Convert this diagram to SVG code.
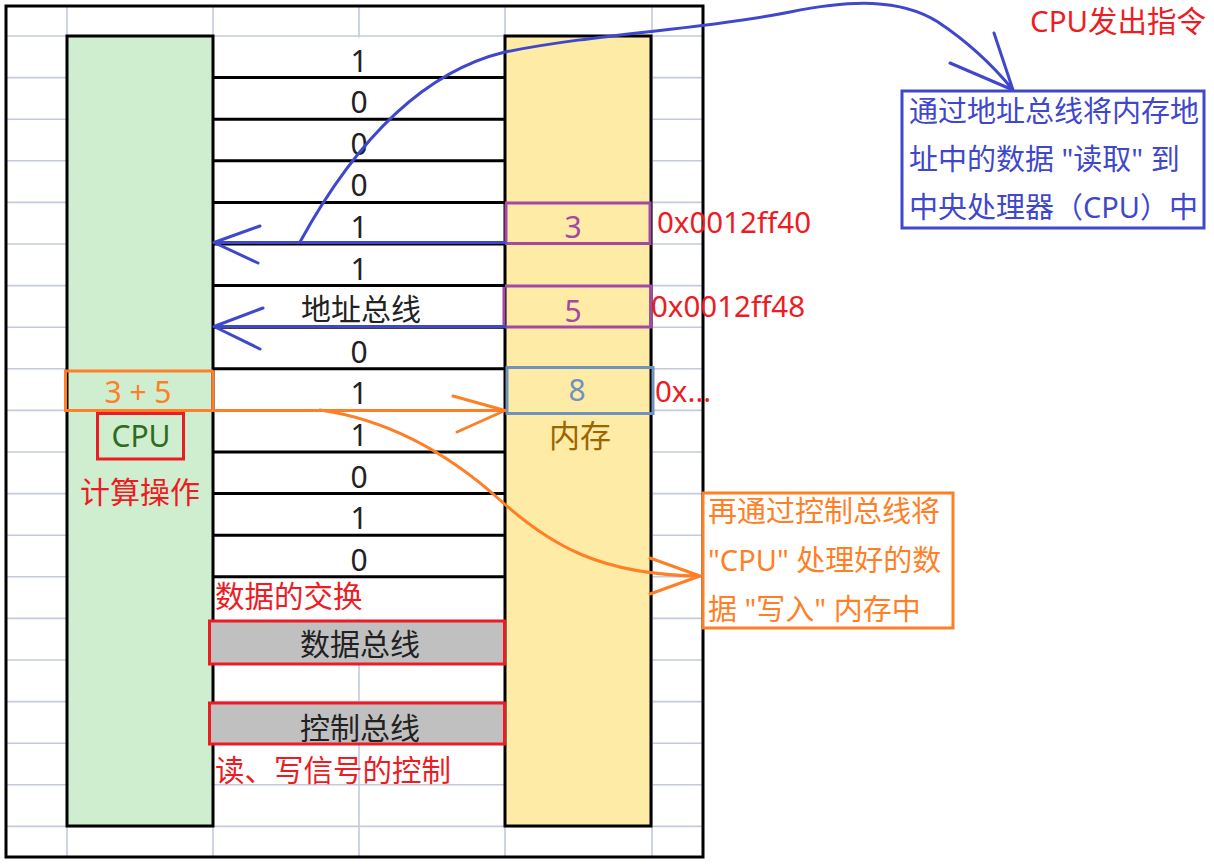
<svg xmlns="http://www.w3.org/2000/svg" width="1214" height="864" viewBox="0 0 1214 864">
<style>
text{font-family:"Noto Sans","Noto Sans CJK SC",sans-serif;}
.grid{stroke:#c3cadc;stroke-width:1.6;fill:none}
.bus{stroke:#000;stroke-width:3;fill:none}
.cell{font-size:30px;fill:#222;text-anchor:middle}
.red{fill:#ed1c24}
.blue{stroke:#3f48cc;stroke-width:3;fill:none;stroke-linecap:round}
.orange{stroke:#ff7f27;stroke-width:3;fill:none;stroke-linecap:round}
.ann{font-size:29.5px}
</style>
<rect width="1214" height="864" fill="#fff"/>
<g id="grid">
<path class="grid" d="M67,5V858M213,5V858M359,5V858M505,5V858M652,5V858"/>
<path class="grid" d="M5,36H703M5,77.6H703M5,119.2H703M5,160.8H703M5,202.4H703M5,244H703M5,285.6H703M5,327.2H703M5,368.8H703M5,410.4H703M5,452H703M5,493.6H703M5,535.2H703M5,576.8H703M5,618.4H703M5,660H703M5,701.6H703M5,743.2H703M5,784.8H703M5,826.4H703"/>
<rect x="214" y="37.5" width="290" height="582" fill="#fff"/>
<rect x="6" y="6" width="697" height="851" fill="none" stroke="#000" stroke-width="3"/>
</g>
<g id="cpu">
<rect x="67" y="36" width="146" height="790" fill="#cfedcf" stroke="#000" stroke-width="3"/>
<rect x="65.5" y="371" width="147.5" height="39.5" fill="none" stroke="#ff7f27" stroke-width="3"/>
<text x="138" y="403" font-size="30" fill="#ff7f27" text-anchor="middle">3 + 5</text>
<rect x="97.5" y="413.5" width="86" height="45.5" fill="none" stroke="#ed1c24" stroke-width="3"/>
<text x="141" y="447" font-size="30" fill="#2f6a22" text-anchor="middle">CPU</text>
<text x="140" y="503" font-size="30" class="red" text-anchor="middle">计算操作</text>
</g>
<g id="memory">
<rect x="505" y="36" width="146" height="790" fill="#fdeba6" stroke="#000" stroke-width="3"/>
<rect x="506" y="203" width="144" height="40.5" fill="none" stroke="#a349a4" stroke-width="3"/>
<text x="573" y="238" font-size="30" fill="#a349a4" text-anchor="middle">3</text>
<rect x="504" y="286" width="147" height="41" fill="none" stroke="#a349a4" stroke-width="3"/>
<text x="573" y="322" font-size="30" fill="#a349a4" text-anchor="middle">5</text>
<rect x="507" y="367.5" width="146" height="46" fill="none" stroke="#7092be" stroke-width="3"/>
<text x="577" y="401" font-size="30" fill="#7092be" text-anchor="middle">8</text>
<text x="580" y="447" font-size="31" fill="#9c6500" text-anchor="middle">内存</text>
<text x="657" y="233" class="red ann">0x0012ff40</text>
<text x="651" y="317" class="red ann">0x0012ff48</text>
<text x="655" y="402" class="red ann">0x...</text>
</g>
<g id="address-bus">
<path class="bus" d="M213,77.6H505M213,119.2H505M213,160.8H505M213,202.4H505M213,244H505M213,285.6H505M213,327.2H505M213,368.8H505M213,410.4H505M213,452H505M213,493.6H505M213,535.2H505M213,576.8H505"/>
<text class="cell" x="359" y="71.5">1</text>
<text class="cell" x="359" y="113">0</text>
<text class="cell" x="359" y="154.5">0</text>
<text class="cell" x="359" y="196">0</text>
<text class="cell" x="359" y="238">1</text>
<text class="cell" x="359" y="279.5">1</text>
<text class="cell" x="361" y="320" font-size="32">地址总线</text>
<text class="cell" x="359" y="362.5">0</text>
<text class="cell" x="359" y="404">1</text>
<text class="cell" x="359" y="446">1</text>
<text class="cell" x="359" y="487.5">0</text>
<text class="cell" x="359" y="529">1</text>
<text class="cell" x="359" y="570.5">0</text>
</g>
<g id="data-bus">
<text x="215" y="607" class="red ann">数据的交换</text>
<rect x="209.5" y="621" width="295" height="43" fill="#c0c0c0" stroke="#ed1c24" stroke-width="3"/>
<text class="cell" x="360" y="655" font-size="32">数据总线</text>
</g>
<g id="control-bus">
<rect x="209.5" y="703" width="295" height="41" fill="#c0c0c0" stroke="#ed1c24" stroke-width="3"/>
<text class="cell" x="360" y="739" font-size="32">控制总线</text>
<text x="215" y="781" class="red ann">读、写信号的控制</text>
</g>
<g id="connectors">
<path class="blue" d="M505,242.5H214M214,242.5L260,226M214,242.5L258,263"/>
<path class="blue" d="M505,326.5H214M214,326.5L263,308M214,326.5L260,349"/>
<path class="blue" d="M300,242C345,160 410,75 505,52C600,33 700,30 790,12C850,0 900,-2 938,22C968,42 995,68 1013,90M1013,90L994,33M1013,90L950,63"/>
<path class="orange" d="M213,410.5H505M505,410.5L453,396M505,410.5L457,432"/>
<path class="orange" d="M320,410C390,420 450,455 500,500C550,545 600,575 700,576M700,576L650,558M700,576L650,594"/>
</g>
<g id="note-cpu">
<text x="1030" y="32" class="red ann">CPU发出指令</text>
</g>
<g id="note-read">
<rect x="902" y="91" width="302" height="137" fill="#fff" stroke="#3f48cc" stroke-width="3"/>
<g font-size="29" fill="#3f48cc">
<text x="909" y="122">通过地址总线将内存地</text>
<text x="909" y="170">址中的数据 "读取" 到</text>
<text x="909" y="218">中央处理器（CPU）中</text>
</g>
</g>
<g id="note-write">
<rect x="703" y="493" width="250" height="135" fill="#fff" stroke="#ff7f27" stroke-width="3"/>
<g font-size="29" fill="#ff7f27">
<text x="708" y="522">再通过控制总线将</text>
<text x="708" y="571">"CPU" 处理好的数</text>
<text x="708" y="620">据 "写入" 内存中</text>
</g>
</g>
</svg>
